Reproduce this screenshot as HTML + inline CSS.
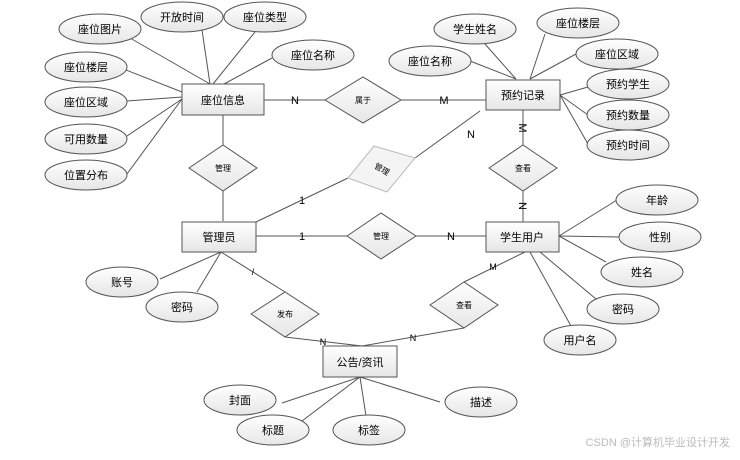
<!DOCTYPE html>
<html><head><meta charset="utf-8"><style>
html,body{margin:0;padding:0;background:#fff;}
svg text{font-family:"Liberation Sans","Noto Sans CJK SC",sans-serif;}
</style></head><body>
<svg width="740" height="455" viewBox="0 0 740 455" xmlns="http://www.w3.org/2000/svg">
<defs>
<linearGradient id="g" x1="0" y1="0" x2="0" y2="1"><stop offset="0" stop-color="#fff"/><stop offset="1" stop-color="#e6e6e6"/></linearGradient>
</defs>
<g stroke="#555" stroke-width="1" fill="none">
<line x1="210" y1="84" x2="130" y2="38"/>
<line x1="210" y1="84" x2="202" y2="30"/>
<line x1="213" y1="84" x2="255" y2="32"/>
<line x1="224" y1="84" x2="272" y2="58"/>
<line x1="182" y1="92" x2="126" y2="70"/>
<line x1="182" y1="97" x2="127" y2="101"/>
<line x1="182" y1="99" x2="127" y2="136"/>
<line x1="182" y1="99" x2="127" y2="174"/>
<line x1="516" y1="79" x2="485" y2="44"/>
<line x1="516" y1="79" x2="470" y2="61"/>
<line x1="530" y1="79" x2="545" y2="34"/>
<line x1="530" y1="79" x2="576" y2="54"/>
<line x1="560" y1="95" x2="588" y2="87"/>
<line x1="560" y1="95" x2="588" y2="115"/>
<line x1="560" y1="95" x2="588" y2="144"/>
<line x1="559" y1="236" x2="617" y2="200"/>
<line x1="559" y1="236" x2="620" y2="237"/>
<line x1="559" y1="236" x2="606" y2="262"/>
<line x1="540" y1="252" x2="596" y2="299"/>
<line x1="530" y1="252" x2="571" y2="326"/>
<line x1="221" y1="252" x2="160" y2="279"/>
<line x1="221" y1="252" x2="197" y2="292"/>
<line x1="360" y1="377" x2="282" y2="403"/>
<line x1="360" y1="377" x2="302" y2="421"/>
<line x1="360" y1="377" x2="366" y2="416"/>
<line x1="360" y1="377" x2="440" y2="402"/>
<line x1="264" y1="100" x2="325" y2="100"/>
<line x1="401" y1="100" x2="486" y2="100"/>
<line x1="223" y1="115" x2="223" y2="145"/>
<line x1="223" y1="191" x2="223" y2="221"/>
<line x1="256" y1="222" x2="348" y2="178"/>
<line x1="415" y1="158" x2="480" y2="111"/>
<line x1="523" y1="110" x2="523" y2="145"/>
<line x1="523" y1="191" x2="523" y2="222"/>
<line x1="256" y1="236" x2="347" y2="236"/>
<line x1="416" y1="236" x2="486" y2="236"/>
<line x1="221" y1="252" x2="285" y2="292"/>
<line x1="285" y1="337" x2="362" y2="346"/>
<line x1="525" y1="252" x2="464" y2="282"/>
<line x1="464" y1="328" x2="362" y2="346"/>
</g>
<g stroke="#555" fill="url(#g)">
<rect x="182" y="84" width="82" height="31"/>
<rect x="486" y="80" width="74" height="30"/>
<rect x="182" y="222" width="74" height="30"/>
<rect x="486" y="222" width="73" height="30"/>
<rect x="323" y="346" width="74" height="31"/>
<polygon points="325,100 363,77 401,100 363,123"/>
<polygon points="189,168 223,145 257,168 223,191"/>
<polygon points="489,168 523,145 557,168 523,191"/>
<polygon points="347,236 381,213 416,236 381,259"/>
<polygon points="251,314 285,292 319,314 285,337"/>
<polygon points="430,305 464,282 498,305 464,328"/>
</g>
<polygon points="348,178 374,146 415,158 387,192" fill="#f4f4f4" stroke="#bbb"/>
<g stroke="#555" fill="url(#g)">
<ellipse cx="100" cy="29" rx="41" ry="15"/>
<ellipse cx="182" cy="17" rx="41" ry="15"/>
<ellipse cx="265" cy="17" rx="41" ry="15"/>
<ellipse cx="313" cy="55" rx="41" ry="15"/>
<ellipse cx="86" cy="67" rx="41" ry="15"/>
<ellipse cx="86" cy="102" rx="41" ry="15"/>
<ellipse cx="86" cy="139" rx="41" ry="15"/>
<ellipse cx="86" cy="175" rx="41" ry="15"/>
<ellipse cx="475" cy="29" rx="41" ry="15"/>
<ellipse cx="578" cy="23" rx="41" ry="15"/>
<ellipse cx="430" cy="61" rx="41" ry="15"/>
<ellipse cx="617" cy="54" rx="41" ry="15"/>
<ellipse cx="628" cy="84" rx="41" ry="15"/>
<ellipse cx="628" cy="115" rx="41" ry="15"/>
<ellipse cx="628" cy="145" rx="41" ry="15"/>
<ellipse cx="657" cy="200" rx="41" ry="15"/>
<ellipse cx="660" cy="237" rx="41" ry="15"/>
<ellipse cx="642" cy="272" rx="41" ry="15"/>
<ellipse cx="623" cy="309" rx="36" ry="15"/>
<ellipse cx="580" cy="340" rx="36" ry="15"/>
<ellipse cx="122" cy="282" rx="36" ry="15"/>
<ellipse cx="182" cy="307" rx="36" ry="15"/>
<ellipse cx="240" cy="400" rx="36" ry="15"/>
<ellipse cx="273" cy="430" rx="36" ry="15"/>
<ellipse cx="369" cy="430" rx="36" ry="15"/>
<ellipse cx="481" cy="402" rx="36" ry="15"/>
</g>
<g font-size="11" text-anchor="middle" fill="#000">
<text x="100" y="33">座位图片</text>
<text x="182" y="21">开放时间</text>
<text x="265" y="21">座位类型</text>
<text x="313" y="59">座位名称</text>
<text x="86" y="71">座位楼层</text>
<text x="86" y="106">座位区域</text>
<text x="86" y="143">可用数量</text>
<text x="86" y="179">位置分布</text>
<text x="475" y="33">学生姓名</text>
<text x="578" y="27">座位楼层</text>
<text x="430" y="65">座位名称</text>
<text x="617" y="58">座位区域</text>
<text x="628" y="88">预约学生</text>
<text x="628" y="119">预约数量</text>
<text x="628" y="149">预约时间</text>
<text x="657" y="204">年龄</text>
<text x="660" y="241">性别</text>
<text x="642" y="276">姓名</text>
<text x="623" y="313">密码</text>
<text x="580" y="344">用户名</text>
<text x="122" y="286">账号</text>
<text x="182" y="311">密码</text>
<text x="240" y="404">封面</text>
<text x="273" y="434">标题</text>
<text x="369" y="434">标签</text>
<text x="481" y="406">描述</text>
<text x="223" y="104">座位信息</text>
<text x="523" y="99">预约记录</text>
<text x="219" y="241">管理员</text>
<text x="522" y="241">学生用户</text>
<text x="360" y="366">公告/资讯</text>
</g>
<g font-size="8" text-anchor="middle" fill="#000">
<text x="363" y="103">属于</text>
<text x="223" y="171">管理</text>
<text x="523" y="171">查看</text>
<text x="381" y="239">管理</text>
<text x="285" y="317">发布</text>
<text x="464" y="308">查看</text>
<text x="382" y="172" transform="rotate(30 382 169)">管理</text>
</g>
<g font-size="11" text-anchor="middle" fill="#000">
<text x="295" y="104">N</text>
<text x="444" y="104">M</text>
<text x="471" y="138">N</text>
<text x="302" y="204">1</text>
<text x="302" y="240">1</text>
<text x="451" y="240">N</text>
<text x="523" y="132" transform="rotate(90 523 128)">M</text>
<text x="523" y="210" transform="rotate(90 523 206)">N</text>
</g>
<g font-size="9" text-anchor="middle" fill="#000">
<text x="253" y="275">/</text>
<text x="323" y="345">N</text>
<text x="413" y="341">N</text>
<text x="493" y="270">M</text>
</g>
<text x="730" y="446" font-size="11" text-anchor="end" fill="#bbb">CSDN @计算机毕业设计开发</text>
</svg>
</body></html>
